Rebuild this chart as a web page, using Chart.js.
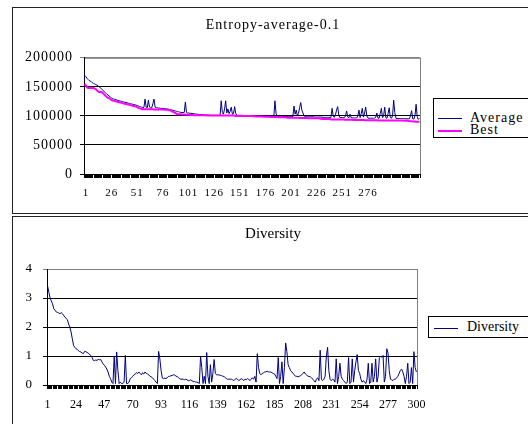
<!DOCTYPE html>
<html>
<head>
<meta charset="utf-8">
<script src="https://cdn.jsdelivr.net/npm/chart.js@4.4.0/dist/chart.umd.min.js"></script>
<style>
  body { margin: 0; width: 528px; height: 424px; overflow: hidden; position: relative; background: #fff;
         font-family: "Liberation Serif", "Times New Roman", serif; }
  .frame { position: absolute; left: 12px; width: 600px; border: 1px solid #222; }
  #topFrame { top: 7px; height: 205px; }
  #bottomFrame { top: 216px; height: 300px; }
  canvas { position: absolute; left: 13px; }
  #entropyChart { top: 8px; }
  #diversityChart { top: 217px; }
  .legend { position: absolute; border: 1px solid #000; background: #fff; width: 120px; font-size: 14px; color: #000; }
  .legend .line { position: absolute; width: 24px; }
  .legend .txt { position: absolute; line-height: 16px; white-space: nowrap; }
  #topLegend .txt { letter-spacing: 1px; }
</style>
</head>
<body>
<div class="frame" id="topFrame"></div>
<div class="frame" id="bottomFrame"></div>
<canvas id="entropyChart" width="520" height="205"></canvas>
<canvas id="diversityChart" width="520" height="207"></canvas>

<div class="legend" id="topLegend" style="left:433px; top:98px; height:38px;">
  <div class="line" style="left:4px; top:19px; border-top:1px solid #000080;"></div>
  <div class="txt" style="left:36px; top:11px;">Average</div>
  <div class="line" style="left:4px; top:31px; border-top:2px solid #ff00ff;"></div>
  <div class="txt" style="left:36px; top:23px;">Best</div>
</div>
<div class="legend" style="left:428px; top:316px; height:20px;">
  <div class="line" style="left:5px; top:11px; border-top:1px solid #000080;"></div>
  <div class="txt" style="left:38px; top:2px;">Diversity</div>
</div>

<script>
// generation numbers along the x axis
var generations = Array.from({ length: 300 }, function (_, i) { return i + 1; });

// labels printed under each x axis
var topTickLabels = [1, 26, 51, 76, 101, 126, 151, 176, 201, 226, 251, 276];
var bottomTickLabels = [1, 24, 47, 70, 93, 116, 139, 162, 185, 208, 231, 254, 277, 300];

// entropy, average of the population
var averageValues = [
  170000,168000,165000,163000,161000,160000,159000,157000,156000,155000,
  154000,153000,152000,150000,148500,147000,145000,143000,141000,139000,
  137000,136000,134000,132500,131000,130000,129000,128500,128000,127000,
  126500,126000,125500,125000,124500,124000,123500,123000,122500,122000,
  121500,121000,120500,120000,119500,119000,118500,118000,117000,116000,
  115500,115000,114500,114500,129000,115000,114000,127000,115000,114000,
  114000,121000,129000,115000,114000,114000,113500,113500,113000,113000,
  113000,112500,112500,112000,112000,111500,111000,110500,110000,109500,
  109000,108500,108000,107500,107000,106500,106000,106000,105500,106000,
  124000,106000,105000,105000,104500,104500,104000,104000,103500,103500,
  103000,103000,102500,102500,102000,102000,102000,101500,101500,101500,
  101500,101500,101000,101000,101000,101000,101000,101000,101000,101000,
  101000,101000,126000,106000,103000,112000,126000,105000,112000,104000,
  108000,115000,103000,104000,116000,104000,101000,101000,101000,101000,
  101000,101000,100500,100500,100500,100500,100500,100500,100500,100000,
  100000,100000,100000,100000,100000,100000,100000,100000,100000,100000,
  100000,99500,99500,99500,99500,99500,99500,99500,99500,99500,
  126000,104000,99500,99000,99000,99000,99000,99000,99000,99000,
  99000,99000,99000,99000,99000,99000,99000,117000,103000,110000,
  100000,104000,114000,123000,110000,105000,100000,99000,98500,98500,
  98500,98500,98500,98500,98500,98000,98000,98000,98000,98000,
  98000,98000,98000,97500,97500,97500,97500,97500,97500,97500,
  97500,113000,100000,97500,102000,110000,116000,101000,97000,97000,
  97000,97000,97000,100000,108500,98000,97000,103000,97000,96500,
  96500,96500,96500,96500,100000,110000,97000,104000,113000,98000,
  105000,115000,100000,96500,96000,96000,96000,96000,96000,96000,
  98000,105000,96000,96000,104000,113000,97000,100000,115000,97000,
  96000,104000,114000,97000,96000,100000,127000,106000,96000,95500,
  95500,95500,95500,95500,95500,95500,95000,95000,95000,95000,
  95000,100000,109000,95000,94500,100000,120000,99000,94000,96000
];

// entropy, best individual
var bestValues = [
  155000,153000,150000,148000,148000,148000,148000,148000,148000,147000,
  146000,144000,142000,141000,141000,141000,140000,138000,136000,134000,
  132000,131000,130000,129000,127500,126500,126000,125500,125000,124500,
  124000,123500,123000,122500,122000,121500,121000,120500,120000,119500,
  119000,118500,118000,117500,117000,116500,116000,115000,114000,113000,
  112500,112000,111500,111500,111500,111500,111500,111500,111500,111500,
  111500,111500,111000,111000,111000,111000,111000,111000,111000,111000,
  111000,111000,110500,110500,110500,110000,110000,109000,108000,107000,
  106000,105000,104000,103000,103000,103000,103000,102500,102500,102500,
  102500,102000,102000,102000,102000,101500,101500,101500,101000,101000,
  101000,101000,101000,101000,101000,101000,101000,101000,101000,101000,
  100500,100500,100500,100500,100500,100500,100500,100500,100500,100500,
  100500,100500,100500,100500,100500,100500,100500,100500,100500,100500,
  100500,100500,100500,100500,100500,100000,100000,100000,100000,100000,
  100000,100000,100000,100000,100000,100000,100000,100000,100000,100000,
  99500,99500,99500,99000,99000,99000,99000,99000,99000,99000,
  98500,98500,98500,98500,98500,98500,98000,98000,98000,98000,
  98000,98000,98000,97500,97500,97500,97500,97500,97500,97500,
  97500,97000,97000,97000,97000,97000,97000,97000,97000,97000,
  97000,97000,96500,96500,96500,96500,96500,96500,96500,96500,
  96000,96000,96000,96000,96000,96000,96000,96000,96000,96000,
  95500,95000,94500,94500,94500,94500,94500,94500,94500,94500,
  94000,94000,94000,94000,94000,94000,94000,94000,94000,94000,
  94000,94000,93500,93500,93500,93500,93500,93500,93500,93500,
  93000,93000,93000,93000,93000,93000,93000,93000,93000,93000,
  92500,92500,92500,92500,92500,92500,92500,92500,92500,92500,
  92500,92500,92000,92000,92000,92000,92000,92000,92000,92000,
  92000,92000,92000,92000,92000,92000,92000,92000,92000,92000,
  92000,92000,92000,92000,92000,91500,91500,91500,91500,91500,
  91000,91000,91000,90500,90500,90500,90000,90000,90000,90000
];

// population diversity
var diversityValues = [
  3.41,3.2,3.0,2.9,2.8,2.63,2.58,2.52,2.5,2.49,
  2.45,2.5,2.46,2.4,2.34,2.3,2.26,2.1,2.0,1.83,
  1.6,1.37,1.3,1.25,1.23,1.18,1.15,1.14,1.1,1.08,
  1.16,1.15,1.12,1.1,1.05,1.02,0.95,0.85,0.84,0.86,
  0.85,0.88,0.87,0.88,0.8,0.73,0.68,0.62,0.55,0.45,
  0.3,0.22,0.1,0.05,1.0,0.05,1.14,0.5,0.05,0.1,
  0.05,0.05,0.1,1.02,0.05,0.05,0.1,0.22,0.25,0.3,
  0.35,0.38,0.42,0.4,0.45,0.4,0.35,0.42,0.38,0.45,
  0.4,0.38,0.35,0.3,0.28,0.25,0.2,0.15,0.1,0.05,
  1.16,0.9,0.5,0.24,0.22,0.24,0.22,0.25,0.3,0.3,
  0.32,0.33,0.35,0.35,0.3,0.3,0.25,0.22,0.2,0.2,
  0.2,0.18,0.2,0.18,0.15,0.15,0.18,0.15,0.12,0.12,
  0.1,0.1,0.08,0.05,0.98,0.6,0.05,0.3,0.05,1.12,
  0.3,0.05,0.7,0.1,0.4,0.88,0.4,0.35,0.35,0.35,
  0.33,0.33,0.3,0.3,0.25,0.22,0.2,0.2,0.2,0.2,
  0.18,0.15,0.2,0.22,0.2,0.15,0.18,0.22,0.2,0.15,
  0.2,0.18,0.22,0.2,0.15,0.2,0.25,0.2,0.3,0.1,
  1.08,0.6,0.4,0.35,0.4,0.42,0.45,0.45,0.48,0.45,
  0.45,0.45,0.42,0.4,0.38,0.3,0.22,0.95,0.05,0.3,
  0.8,0.05,0.6,1.45,1.15,0.7,0.6,0.5,0.45,0.4,
  0.35,0.3,0.3,0.28,0.3,0.32,0.35,0.4,0.45,0.38,
  0.35,0.3,0.3,0.28,0.25,0.2,0.15,0.1,0.2,0.25,
  0.15,1.2,0.2,0.15,0.2,0.3,1.0,1.3,0.5,0.2,
  0.15,0.2,0.18,0.1,0.9,0.05,0.3,0.75,0.3,0.2,
  0.15,0.1,0.05,0.1,0.95,0.05,0.1,0.9,0.1,0.5,
  0.8,1.05,0.5,0.4,0.2,0.1,0.15,0.1,0.05,0.2,
  0.75,0.05,0.1,0.75,0.1,0.3,0.9,0.1,0.3,0.95,
  1.0,0.95,1.02,0.1,0.3,1.25,1.1,0.5,0.2,0.18,
  0.15,0.2,0.2,0.25,0.3,0.4,0.5,0.55,0.45,0.3,
  0.05,0.3,0.75,0.05,0.1,0.6,0.05,1.15,0.6,0.45
];

Chart.defaults.font.family = '"Liberation Serif", "Times New Roman", serif';
Chart.defaults.color = '#000';

// grey box round the plot area, drawn first so the black axes sit on top of it
var plotBorder = {
  id: 'plotBorder',
  beforeDraw: function (chart) {
    var a = chart.chartArea, c = chart.ctx;
    c.save();
    c.strokeStyle = '#808080';
    c.lineWidth = 1;
    c.strokeRect(a.left + 0.5, a.top + 0.5, a.right - a.left, a.bottom - a.top);
    c.restore();
  }
};

// the top chart's text is spread a little wider, like the old picture
var textSpacing = {
  id: 'textSpacing',
  beforeDraw: function (chart, args, opts) {
    chart.ctx.letterSpacing = opts.spacing || '0px';
  }
};

// empty axis on the right that keeps room for the legend, so the title stays centred on the whole frame
function legendRoom(width) {
  return {
    type: 'linear', position: 'right',
    grid: { display: false, drawTicks: false },
    border: { display: false },
    ticks: { display: false },
    afterFit: function (s) { s.width = width; }
  };
}

var baseOptions = {
  responsive: false,
  animation: false,
  events: [],
  elements: { point: { radius: 0 }, line: { tension: 0 } }
};

// top chart: entropy of average and best
new Chart(document.getElementById('entropyChart'), {
  type: 'line',
  data: {
    labels: generations,
    datasets: [
      { label: 'Average', data: averageValues, xAxisID: 'x', yAxisID: 'y', borderColor: '#000080', borderWidth: 1, order: 1 },
      { label: 'Best', data: bestValues, xAxisID: 'x', yAxisID: 'y', borderColor: '#ff00ff', borderWidth: 2, order: 0 }
    ]
  },
  options: Object.assign({}, baseOptions, {
    layout: { padding: 0 },
    plugins: {
      legend: { display: false },
      tooltip: { enabled: false },
      textSpacing: { spacing: '1px' },
      title: { display: true, text: 'Entropy-average-0.1', color: '#000',
               font: { size: 14, weight: 'normal' }, padding: { top: 9, bottom: 24 } }
    },
    scales: {
      x: {
        type: 'category', offset: true, weight: 0,
        grid: { offset: true, drawOnChartArea: false, tickLength: 4, color: '#000' },
        border: { color: '#000' },
        ticks: { display: false },
        afterFit: function (s) { s.height = 4; }
      },
      // the printed labels of the old picture run a bit tighter than the plot, so they get their own axis
      xLabels: {
        type: 'linear', position: 'bottom', weight: 1, min: -0.95, max: 326.7,
        grid: { display: false, drawTicks: false },
        border: { display: false },
        ticks: { padding: 9, maxRotation: 0, font: { size: 11 }, callback: function (v) { return String(v); } },
        afterBuildTicks: function (s) { s.ticks = topTickLabels.map(function (v) { return { value: v }; }); },
        afterFit: function (s) { s.height = 35; }
      },
      y: {
        min: 0, max: 200000,
        ticks: { stepSize: 50000, padding: 7, font: { size: 14 }, callback: function (v) { return String(v); } },
        grid: { tickLength: 4, color: function (c) { return c.tick.value === 200000 ? '#808080' : '#000'; } },
        border: { color: '#000' },
        afterFit: function (s) { s.width = 71; }
      },
      room: legendRoom(113)
    }
  }),
  plugins: [plotBorder, textSpacing]
});

// bottom chart: diversity
new Chart(document.getElementById('diversityChart'), {
  type: 'line',
  data: {
    labels: generations,
    datasets: [
      { label: 'Diversity', data: diversityValues, xAxisID: 'x', yAxisID: 'y', borderColor: '#000080', borderWidth: 1 }
    ]
  },
  options: Object.assign({}, baseOptions, {
    layout: { padding: 0 },
    plugins: {
      legend: { display: false },
      tooltip: { enabled: false },
      title: { display: true, text: 'Diversity', color: '#000',
               font: { size: 15, weight: 'normal' }, padding: { top: 8, bottom: 26 } }
    },
    scales: {
      x: {
        type: 'category', offset: true,
        grid: { offset: true, drawOnChartArea: false, tickLength: 4, color: '#000' },
        border: { color: '#000' },
        ticks: {
          autoSkip: false, maxRotation: 0, minRotation: 0, padding: 9, font: { size: 12 },
          callback: function (v, i) {
            var g = generations[i];
            return bottomTickLabels.indexOf(g) >= 0 ? String(g) : '';
          }
        },
        afterFit: function (s) { s.height = 39; }
      },
      y: {
        min: 0, max: 4,
        ticks: { stepSize: 1, padding: 11, font: { size: 13 }, callback: function (v) { return String(v); } },
        grid: { tickLength: 4, color: function (c) { return c.tick.value === 4 ? '#808080' : '#000'; } },
        border: { color: '#000' },
        afterFit: function (s) { s.width = 34; }
      },
      room: legendRoom(116)
    }
  }),
  plugins: [plotBorder]
});
</script>
</body>
</html>
